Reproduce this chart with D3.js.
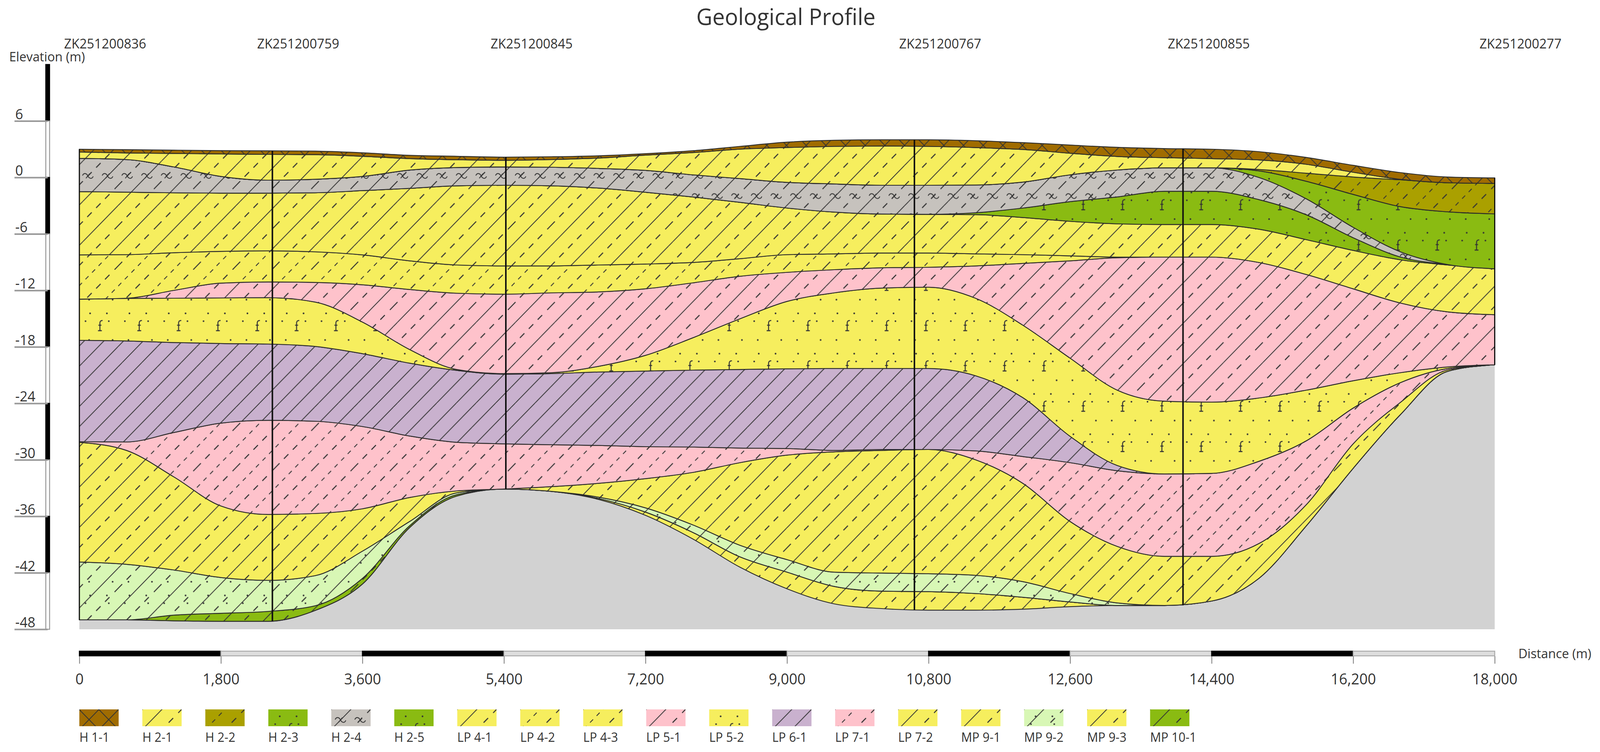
<!DOCTYPE html>
<html>
<head>
<meta charset="utf-8">
<title>Geological Profile</title>
<script src="https://cdn.jsdelivr.net/npm/d3@7"></script>
<style>
    html, body { margin: 0; background: #fff; overflow: hidden; }
    #chart { display: block; width: 100vw; height: 100vh; }
    text { font-family: "Open Sans", sans-serif; fill: #333; }
</style>
</head>
<body>
<svg id="chart" viewBox="0 0 4194 1924" preserveAspectRatio="none"></svg>
<script>
'use strict';

// distances along the section (m), every boundary below is read at these stations
const stations = [0, 600, 1200, 1800, 2400, 3000, 3600, 4200, 4800, 5400, 6000, 6600, 7200, 7800, 8400, 9000, 9600, 10200, 10800, 11400, 12000, 12600, 13200, 13800, 14400, 15000, 15600, 16200, 16800, 17400, 18000];

const surface = [3.0, 2.95, 2.9, 2.85, 2.83, 2.8, 2.62, 2.35, 2.25, 2.16, 2.2, 2.3, 2.53, 2.84, 3.3, 3.75, 3.95, 4.0, 4.0, 3.9, 3.7, 3.44, 3.2, 3.07, 3.0, 2.74, 2.13, 1.29, 0.52, 0.05, -0.05];
const h11Bottom = [2.7, 2.6, 2.55, 2.5, 2.45, 2.42, 2.25, 2.0, 1.88, 1.82, 1.9, 2.06, 2.37, 2.64, 3.0, 3.18, 3.3, 3.34, 3.3, 3.17, 2.97, 2.57, 2.23, 2.1, 2.0, 1.86, 1.4, 0.55, -0.2, -0.56, -0.63];
const h21Bottom = [2.03, 1.9, 1.12, 0.11, -0.29, -0.19, 0.11, 0.78, 1.05, 1.12, 1.09, 0.96, 0.75, 0.28, -0.12, -0.52, -0.69, -0.83, -0.83, -0.8, -0.49, 0.28, 0.79, 1.02, 1.02, 0.85, 0.45, 0.05, -0.25, -0.56, -0.63];
const h22Bottom = [2.03, 1.9, 1.12, 0.11, -0.29, -0.19, 0.11, 0.78, 1.05, 1.12, 1.09, 0.96, 0.75, 0.28, -0.12, -0.52, -0.69, -0.83, -0.83, -0.8, -0.49, 0.28, 0.79, 1.02, 1.02, 0.7, -0.4, -1.8, -3.1, -3.65, -3.87];
const h23Bottom = [2.03, 1.9, 1.12, 0.11, -0.29, -0.19, 0.11, 0.78, 1.05, 1.12, 1.09, 0.96, 0.75, 0.28, -0.12, -0.52, -0.69, -0.83, -0.83, -0.8, -0.49, 0.28, 0.79, 1.02, 1.02, 0.0, -2.25, -5.3, -7.9, -9.25, -9.7];
const h24Bottom = [-1.5, -1.56, -1.63, -1.67, -1.67, -1.63, -1.4, -1.16, -0.89, -0.83, -0.89, -1.13, -1.57, -2.07, -2.64, -3.25, -3.68, -3.89, -3.92, -3.75, -3.25, -2.57, -2.07, -1.47, -1.47, -2.35, -3.95, -6.4, -8.45, -9.25, -9.7];
const h25Bottom = [-1.5, -1.56, -1.63, -1.67, -1.67, -1.63, -1.4, -1.16, -0.89, -0.83, -0.89, -1.13, -1.57, -2.07, -2.64, -3.25, -3.68, -3.89, -3.92, -3.95, -4.26, -4.66, -4.93, -5.0, -5.0, -5.5, -6.6, -7.75, -8.75, -9.3, -9.7];
const lp41Bottom = [-8.23, -8.2, -8.0, -7.85, -7.8, -7.9, -8.23, -8.86, -9.3, -9.4, -9.4, -9.3, -9.2, -9.03, -8.63, -8.2, -8.12, -8.03, -8.03, -8.12, -8.2, -8.33, -8.46, -8.46, -8.46, -9.03, -10.3, -11.83, -13.34, -14.28, -14.58];
const lp43Bottom = [-12.93, -12.83, -12.0, -11.23, -11.1, -11.15, -11.4, -11.9, -12.3, -12.4, -12.26, -12.16, -11.83, -11.2, -10.5, -10.08, -9.8, -9.6, -9.54, -9.4, -9.13, -8.86, -8.53, -8.46, -8.46, -9.03, -10.3, -11.83, -13.34, -14.28, -14.58];
const lp51Bottom = [-12.93, -12.85, -12.83, -12.8, -12.77, -13.24, -15.36, -18.28, -20.4, -20.84, -20.74, -20.07, -18.9, -17.04, -15.02, -13.17, -12.26, -11.76, -11.66, -12.84, -15.7, -19.2, -22.6, -23.77, -23.87, -23.43, -22.6, -21.6, -20.74, -20.13, -19.9];
const lp52Bottom = [-17.3, -17.37, -17.54, -17.64, -17.7, -17.95, -18.72, -19.73, -20.5, -20.9, -20.84, -20.67, -20.57, -20.47, -20.4, -20.33, -20.3, -20.3, -20.3, -21.07, -23.4, -27.5, -30.6, -31.5, -31.44, -30.16, -28.0, -24.5, -21.8, -20.3, -19.9];
const lp61Bottom = [-28.07, -28.1, -27.1, -26.1, -25.8, -25.9, -26.46, -27.47, -28.14, -28.3, -28.4, -28.47, -28.6, -28.64, -28.75, -28.8, -29.0, -28.9, -28.9, -29.05, -29.65, -30.3, -31.16, -31.5, -31.44, -30.16, -28.0, -24.5, -21.8, -20.3, -19.9];
const lp71Bottom = [-28.14, -29.0, -31.8, -34.9, -35.8, -35.7, -35.2, -34.0, -33.3, -33.1, -32.85, -32.5, -32.0, -31.34, -30.3, -29.5, -29.15, -29.0, -28.9, -30.0, -32.5, -36.55, -39.2, -40.25, -40.25, -38.9, -34.8, -28.3, -23.9, -20.45, -19.9];
const lp72Bottom = [-40.85, -41.1, -41.7, -42.5, -42.8, -42.3, -39.7, -36.55, -33.5, -33.1, -33.35, -33.96, -35.1, -36.9, -39.07, -40.6, -41.93, -42.03, -42.1, -42.27, -42.94, -44.2, -45.2, -45.47, -45.0, -42.6, -37.05, -30.9, -25.2, -20.6, -19.9];
const mp92Bottom = [-47.0, -47.0, -46.5, -46.3, -46.1, -45.5, -42.6, -37.0, -33.7, -33.1, -33.35, -34.1, -35.55, -37.7, -40.3, -41.93, -43.45, -43.95, -44.0, -44.2, -44.6, -45.1, -45.47, -45.47, -45.0, -42.6, -37.05, -30.9, -25.2, -20.6, -19.9];
const mp101Bottom = [-47.0, -47.0, -47.1, -47.15, -47.15, -46.0, -43.2, -37.2, -33.85, -33.1, -33.35, -34.1, -35.55, -37.7, -40.3, -41.93, -43.45, -43.95, -44.0, -44.2, -44.6, -45.1, -45.47, -45.47, -45.0, -42.6, -37.05, -30.9, -25.2, -20.6, -19.9];
const bedrock = [-47.0, -47.0, -47.1, -47.15, -47.15, -46.0, -43.2, -37.2, -33.85, -33.1, -33.35, -34.2, -35.9, -38.4, -41.4, -43.7, -45.3, -45.8, -45.97, -45.97, -45.87, -45.6, -45.47, -45.47, -45.0, -42.6, -37.05, -30.9, -25.2, -20.6, -19.9];

// layers top to bottom, layer i sits between boundaries[i] and boundaries[i + 1]
const stackNames = ['H 1-1', 'H 2-1', 'H 2-2', 'H 2-3', 'H 2-4', 'H 2-5', 'LP 4-1', 'LP 4-3', 'LP 5-1', 'LP 5-2', 'LP 6-1', 'LP 7-1', 'LP 7-2', 'MP 9-2', 'MP 10-1', 'MP 9-1'];
const boundaries = [surface, h11Bottom, h21Bottom, h22Bottom, h23Bottom, h24Bottom, h25Bottom, lp41Bottom, lp43Bottom, lp51Bottom, lp52Bottom, lp61Bottom, lp71Bottom, lp72Bottom, mp92Bottom, mp101Bottom, bedrock];

const legendNames = ['H 1-1', 'H 2-1', 'H 2-2', 'H 2-3', 'H 2-4', 'H 2-5', 'LP 4-1', 'LP 4-2', 'LP 4-3', 'LP 5-1', 'LP 5-2', 'LP 6-1', 'LP 7-1', 'LP 7-2', 'MP 9-1', 'MP 9-2', 'MP 9-3', 'MP 10-1'];
const legendFills = ['#a06c00', '#f6ee5e', '#aaa000', '#8abb12', '#c6c2bd', '#8abb12', '#f6ee5e', '#f6ee5e', '#f6ee5e', '#fec2cb', '#f6ee5e', '#c9b1ce', '#fec2cb', '#f6ee5e', '#f6ee5e', '#d8f7b5', '#f6ee5e', '#8abb12'];
const legendHatches = ['cross', 'clay', 'dash', 'dots', 'wave', 'dots', 'clay', 'dash', 'dash', 'clay', 'dots', 'solid', 'dash', 'clay', 'clay', 'claydots', 'clay', 'clay'];

const boreNames = ['ZK251200836', 'ZK251200759', 'ZK251200845', 'ZK251200767', 'ZK251200855', 'ZK251200277'];
const boreDistance = [0, 2455, 5424, 10620, 14036, 18000];
const boreTop = [3.0, 2.83, 2.16, 4.0, 3.05, -0.05];
const boreBottom = [-47.0, -47.15, -33.1, -45.97, -45.45, -19.9];

const distanceTicks = [0, 1800, 3600, 5400, 7200, 9000, 10800, 12600, 14400, 16200, 18000];
const elevationTicks = [12, 6, 0, -6, -12, -18, -24, -30, -36, -42, -48];

const x = d3.scaleLinear().domain([0, 18000]).range([208, 3918]);
const y = d3.scaleLinear().domain([12, -48]).range([165, 1610]);

const svg = d3.select('#chart');
const defs = svg.append('defs');

// every hatch shares one square tile, so neighbouring layers line up like in a CAD fill
const T = 103.1;
const solidPhase = 10.7;
const dashPhase = 62.2;

const fullLine = (s) => {
    let p = '';
    for (let k = 0; k < 3; k++) {
        const c = s + k * T;
        p += `M${c},0L0,${c}`;
    }
    return p;
};

const backLine = (s) => {
    let p = '';
    for (let k = -2; k < 2; k++) {
        p += `M${s + k * T},0L${s + k * T + 2 * T},${2 * T}`;
    }
    return p;
};

const dash = (s, y0, y1) => {
    let p = '';
    for (let ky = -1; ky < 2; ky++) {
        for (let kx = -1; kx < 3; kx++) {
            const a = y0 + ky * T;
            const b = y1 + ky * T;
            p += `M${s - a + kx * T},${a}L${s - b + kx * T},${b}`;
        }
    }
    return p;
};

const longShort = () => dash(dashPhase, 51.2, 71.2) + dash(dashPhase, 84.5, 96.2) + dash(dashPhase, 4.7, 16.4) + dash(dashPhase, 28, 39.7);

const tinyDashes = () => d3.range(6).map(k => dash(solidPhase, 36.4 + k * T / 6, 44.4 + k * T / 6)).join('');

const addDot = (g, cx, cy) => {
    g.append('circle').attr('cx', cx).attr('cy', cy).attr('r', 2.2).attr('fill', '#333');
};

const addFMark = (g, fx, fy) => {
    g.append('path')
        .attr('d', `M${fx + 7},${fy}C${fx + 2},${fy} ${fx},${fy + 2} ${fx},${fy + 7}L${fx},${fy + 25}M${fx - 4},${fy + 12}L${fx + 4},${fy + 12}M${fx - 5},${fy + 26}L${fx + 5},${fy + 26}`)
        .attr('fill', 'none').attr('stroke', '#333').attr('stroke-width', 2.6);
};

const addDotMarks = (g) => {
    [[27.4, 45], [89, 45], [30, 80], [74, 80], [18, 100], [79, 100]].forEach(d => addDot(g, d[0], d[1]));
    addFMark(g, 55.7, 98.3);
    addFMark(g, 55.7, 98.3 - T);
};

const addHatchLines = (g, d, width) => {
    g.append('path').attr('d', d).attr('fill', 'none').attr('stroke', '#333').attr('stroke-width', width);
};

legendNames.forEach((name, i) => {
    const hatch = legendHatches[i];
    const g = defs.append('pattern')
        .attr('id', 'fill-' + i)
        .attr('patternUnits', 'userSpaceOnUse')
        .attr('width', T).attr('height', T);
    g.append('rect').attr('width', T).attr('height', T).attr('fill', legendFills[i]);

    if (hatch === 'cross') {
        addHatchLines(g, fullLine(solidPhase) + fullLine(solidPhase + T / 2) + backLine(40.1) + backLine(40.1 + T / 2), 2);
    }
    if (hatch === 'solid') {
        addHatchLines(g, fullLine(solidPhase) + fullLine(solidPhase + T / 2), 2);
    }
    if (hatch === 'clay' || hatch === 'wave' || hatch === 'claydots') {
        addHatchLines(g, fullLine(solidPhase), 2);
        addHatchLines(g, longShort(), 2.6);
    }
    if (hatch === 'dash') {
        addHatchLines(g, longShort(), 2.6);
        addHatchLines(g, tinyDashes(), 2.2);
    }
    if (hatch === 'dots') {
        addDotMarks(g);
    }
    if (hatch === 'claydots') {
        [[27.4, 45], [89, 45], [30, 80], [74, 80], [18, 100], [79, 100]].forEach(d => addDot(g, d[0], d[1]));
    }
    if (hatch === 'wave') {
        // wave marks sit on a half tile lattice
        [0, 1, 2].forEach(a => [0, 1, 2].forEach(b => {
            const wx = 24.1 + a * T / 2;
            const wy = 37.75 + b * T / 2 - T / 2;
            g.append('path')
                .attr('d', `M${wx - 14},${wy - 1}C${wx - 11},${wy - 8} ${wx - 4},${wy - 8} ${wx},${wy}C${wx + 4},${wy + 8} ${wx + 11},${wy + 8} ${wx + 14},${wy + 1}M${wx - 5},${wy + 6}L${wx + 5},${wy - 6}`)
                .attr('fill', 'none').attr('stroke', '#333').attr('stroke-width', 2.2);
        }));
    }
});

svg.append('text')
    .attr('x', 2060).attr('y', 64)
    .attr('text-anchor', 'middle')
    .attr('font-size', 58)
    .text('Geological Profile');

const indexes = d3.range(stations.length);

const groundFill = d3.area()
    .x(i => x(stations[i]))
    .y0(y(-48))
    .y1(i => y(bedrock[i]))
    .curve(d3.curveMonotoneX);

svg.append('path').attr('d', groundFill(indexes)).attr('fill', '#d2d2d2');

const layerArea = (upper, lower) => d3.area()
    .x(i => x(stations[i]))
    .y0(i => y(lower[i]))
    .y1(i => y(upper[i]))
    .curve(d3.curveMonotoneX);

// painted from the deepest layer up so the younger boundaries stay on top
svg.append('g').selectAll('path')
    .data(stackNames.map((name, i) => ({ name, i })).reverse())
    .join('path')
    .attr('d', d => layerArea(boundaries[d.i], boundaries[d.i + 1])(indexes))
    .attr('fill', d => `url(#fill-${legendNames.indexOf(d.name)})`)
    .attr('stroke', '#2b2b2b')
    .attr('stroke-width', 2.2);

svg.append('g').selectAll('line')
    .data(boreNames)
    .join('line')
    .attr('x1', (d, i) => x(boreDistance[i]))
    .attr('x2', (d, i) => x(boreDistance[i]))
    .attr('y1', (d, i) => y(boreTop[i]))
    .attr('y2', (d, i) => y(boreBottom[i]))
    .attr('stroke', '#111')
    .attr('stroke-width', (d, i) => (i === 0 || i === boreNames.length - 1) ? 3 : 4);

svg.append('g').selectAll('text')
    .data(boreNames)
    .join('text')
    .attr('x', (d, i) => x(boreDistance[i]) - 40)
    .attr('y', 112)
    .attr('dy', '.35em')
    .attr('font-size', 34)
    .text(d => d);

// elevation scale bar
svg.append('g').selectAll('rect')
    .data(elevationTicks.slice(1))
    .join('rect')
    .attr('x', 120)
    .attr('width', 10)
    .attr('y', (d, i) => y(elevationTicks[i]))
    .attr('height', (d, i) => y(d) - y(elevationTicks[i]))
    .attr('fill', (d, i) => i % 2 === 0 ? '#000' : '#fff')
    .attr('stroke', (d, i) => i % 2 === 0 ? '#000' : '#999')
    .attr('stroke-width', 2.5);

const yAxis = svg.append('g')
    .attr('transform', 'translate(125,0)')
    .call(d3.axisLeft(y).tickValues(elevationTicks.slice(1)).tickSizeInner(87).tickSizeOuter(0).tickFormat(d3.format('d')));
yAxis.select('.domain').remove();
yAxis.selectAll('.tick line').attr('stroke', '#999').attr('stroke-width', 4);
yAxis.selectAll('.tick text')
    .attr('x', -85).attr('y', -18).attr('dy', '.35em')
    .attr('text-anchor', 'start')
    .style('font-size', '36px')
    .text(d => String(d));

svg.append('text')
    .attr('x', 24).attr('y', 145)
    .attr('dy', '.35em')
    .attr('font-size', 33)
    .text('Elevation (m)');

// distance scale bar
svg.append('g').selectAll('rect')
    .data(distanceTicks.slice(1))
    .join('rect')
    .attr('x', (d, i) => x(distanceTicks[i]))
    .attr('y', 1666)
    .attr('width', (d, i) => x(d) - x(distanceTicks[i]))
    .attr('height', 12)
    .attr('fill', (d, i) => i % 2 === 0 ? '#000' : '#ddd')
    .attr('stroke', (d, i) => i % 2 === 0 ? '#000' : '#aaa')
    .attr('stroke-width', 2.5);

const xAxis = svg.append('g')
    .attr('transform', 'translate(0,1679)')
    .call(d3.axisBottom(x).tickValues(distanceTicks).tickSizeInner(19).tickSizeOuter(0).tickFormat(d3.format(',')));
xAxis.select('.domain').remove();
xAxis.selectAll('.tick line').attr('stroke', '#777').attr('stroke-width', 2);
xAxis.selectAll('.tick text')
    .attr('y', 59).attr('dy', '.35em')
    .style('font-size', '38px');

svg.append('text')
    .attr('x', 3980).attr('y', 1672)
    .attr('dy', '.35em')
    .attr('font-size', 33)
    .text('Distance (m)');

// legend
const legendStep = 165.1;
const legend = svg.append('g').selectAll('g')
    .data(legendNames)
    .join('g')
    .attr('transform', (d, i) => `translate(${208 + i * legendStep},0)`);
legend.append('rect')
    .attr('y', 1815)
    .attr('width', 103)
    .attr('height', 43)
    .attr('fill', (d, i) => `url(#fill-${i})`);
legend.append('text')
    .attr('y', 1887)
    .attr('dy', '.35em')
    .attr('font-size', 32)
    .text(d => d);
</script>
</body>
</html>
